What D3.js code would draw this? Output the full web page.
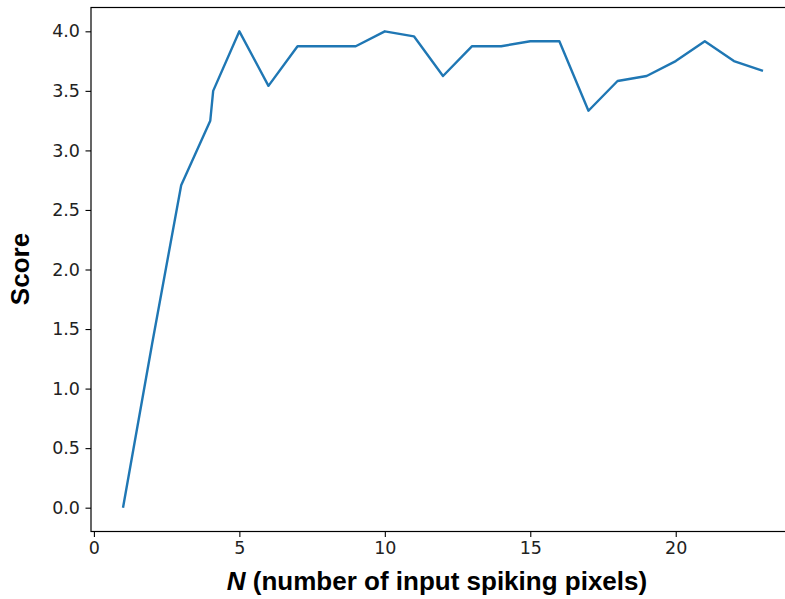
<!DOCTYPE html>
<html><head><meta charset="utf-8">
<script src="https://cdn.jsdelivr.net/npm/d3@7"></script>
<style>body{margin:0;background:#fff}svg{display:block}</style>
</head><body>
<script>
const nValues = [1,2,3,4,4.1,5,6,7,8,9,10,11,12,13,14,15,16,17,18,19,20,21,22,23];
const scores = [0,1.375,2.708,3.25,3.5,4.0,3.542,3.875,3.875,3.875,4.0,3.958,3.625,3.875,3.875,3.917,3.917,3.333,3.583,3.625,3.75,3.917,3.75,3.667];
const xTicks = [0,5,10,15,20];
const yTicks = [0,0.5,1.0,1.5,2.0,2.5,3.0,3.5,4.0];

const W=785,H=599;
const svg=d3.select("body").append("svg").attr("width",W).attr("height",H);
const mLeft=91, mRight=795, mTop=7.5, mBottom=531.5;
const x=d3.scaleLinear().domain([-0.1,24.1]).range([mLeft,mRight]);
const y=d3.scaleLinear().domain([-0.2,4.2]).range([mBottom,mTop]);

const tickFont='"DejaVu Sans", sans-serif';
svg.append("rect").attr("x",mLeft).attr("y",mTop).attr("width",mRight-mLeft).attr("height",mBottom-mTop)
  .attr("fill","none").attr("stroke","#000").attr("stroke-width",1.2);

const xa=svg.append("g").attr("transform",`translate(0,${mBottom})`)
  .call(d3.axisBottom(x).tickValues(xTicks).tickFormat(d3.format("d")).tickSize(5.5).tickPadding(5));
const ya=svg.append("g").attr("transform",`translate(${mLeft},0)`)
  .call(d3.axisLeft(y).tickValues(yTicks).tickFormat(d3.format(".1f")).tickSize(5.5).tickPadding(5.5));
[xa,ya].forEach(a=>{
  a.select(".domain").remove();
  a.selectAll("line").attr("stroke","#000").attr("stroke-width",1.1);
  a.selectAll("text").attr("font-family",tickFont).attr("font-size",17.5).attr("fill","#222");
});

const line=d3.line().x((d,i)=>x(nValues[i])).y(d=>y(d));
svg.append("path").datum(scores).attr("d",line).attr("fill","none")
  .attr("stroke","#1f77b4").attr("stroke-width",2.4).attr("stroke-linejoin","round").attr("stroke-linecap","butt");

const labFont='"Liberation Sans", Arial, sans-serif';
const xl=svg.append("text").attr("x",437).attr("y",590).attr("text-anchor","middle")
  .attr("font-family",labFont).attr("font-weight","bold").attr("font-size",26).attr("fill","#000");
xl.append("tspan").attr("font-style","italic").text("N");
xl.append("tspan").text(" (number of input spiking pixels)");

svg.append("text").attr("transform",`translate(28.5,269) rotate(-90)`).attr("text-anchor","middle")
  .attr("font-family",labFont).attr("font-weight","bold").attr("font-size",26).attr("fill","#000").text("Score");
</script>
</body></html>
